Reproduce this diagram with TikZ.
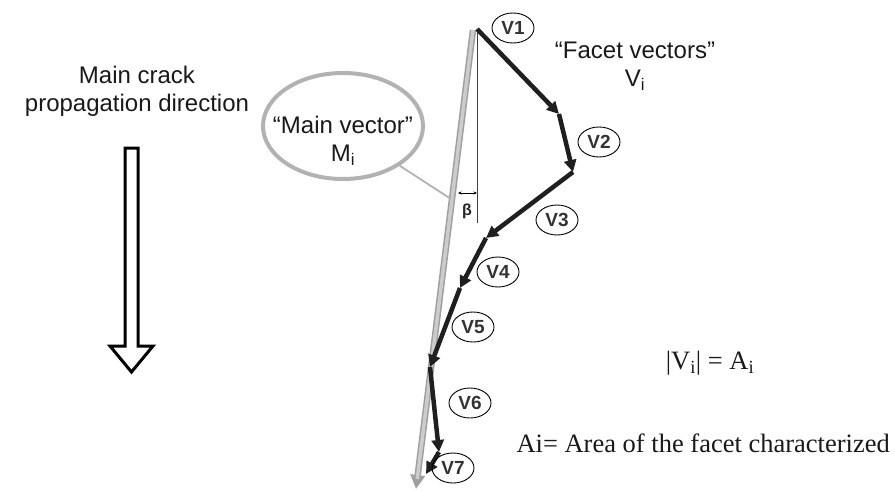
\documentclass[tikz,border=0pt]{standalone}
\usepackage{fontspec}
\setmainfont{Liberation Serif}
\setsansfont{Liberation Sans}
\usetikzlibrary{arrows.meta,shapes.geometric}
\begin{document}
\begin{tikzpicture}[x=1pt,y=-1pt,
  vlab/.style={draw=black, line width=0.9pt, ellipse, minimum width=42pt, minimum height=30pt, inner sep=0pt, font=\sffamily\bfseries\fontsize{19}{19}\selectfont, text=black!80},
  facet/.style={line width=4.5pt, draw=black!88, -{Triangle[length=12pt,width=12pt]}},
  sanslab/.style={font=\sffamily\fontsize{24}{28}\selectfont, align=center, text=black!90},
  serlab/.style={font=\fontsize{26.5}{30}\selectfont, text=black!90}
]
\useasboundingbox (0,0) rectangle (895,493);

% hollow arrow
\draw[line width=3pt, fill=white, line join=miter] (125,148) -- (138,148) -- (138,346) -- (153,346) -- (131.5,372) -- (110,346) -- (125,346) -- cycle;
\node[sanslab] (mc) at (137,91) {Main crack\\propagation direction};

% main vector ellipse
\node[ellipse, draw=gray!60, line width=4pt, minimum width=160pt, minimum height=106pt] (mv) at (343,126) {};
\node[sanslab] (mvt) at (343,141) {“Main vector”\\M\textsubscript{i}};

% main vector
\coordinate (m0) at (473,30);
\coordinate (m1) at (416,489);
\draw[line width=6.5pt, draw=gray!75, -{Triangle[length=14pt,width=14pt]}] (m0) -- (m1);
\draw[line width=3.5pt, draw=gray!40, shorten >=10pt] (m0) -- (m1);
\coordinate (cc) at (451,199);
\draw[gray!60, line width=1.8pt] (mv.-35) -- (cc);

% vertical reference and beta
\coordinate (p0) at (477,29);
\coordinate (vb) at (477,223);
\draw[line width=1pt, black!75] (p0) -- (vb);
\coordinate (b0) at (458,193);
\coordinate (b1) at (477,193);
\draw[{Stealth[length=3.5pt,width=3pt]}-{Stealth[length=3.5pt,width=3pt]}, line width=0.7pt] (b0) -- (b1);
\node[font=\sffamily\bfseries\fontsize{16}{16}\selectfont, text=black!85] (beta) at (467,211) {β};

% facet vectors
\coordinate (p1) at (559,114);
\coordinate (p2) at (573,172);
\coordinate (p3) at (486,238);
\coordinate (p4) at (460,288);
\coordinate (p5) at (430,367);
\coordinate (p6) at (439,452);
\coordinate (p7) at (426,474);
\draw[facet] (p0) -- (p1);
\draw[facet] (p1) -- (p2);
\draw[facet] (p2) -- (p3);
\draw[facet] (p3) -- (p4);
\draw[facet] (p4) -- (p5);
\draw[facet] (p5) -- (p6);
\draw[facet] (p6) -- (p7);

\node[vlab] (v1) at (513,28) {V1};
\node[vlab] (v2) at (599,142) {V2};
\node[vlab] (v3) at (557,220) {V3};
\node[vlab] (v4) at (498,272) {V4};
\node[vlab] (v5) at (473,327) {V5};
\node[vlab] (v6) at (470,403) {V6};
\node[vlab] (v7) at (453,468) {V7};

\node[sanslab] (fv) at (635,66) {“Facet vectors”\\V\textsubscript{i}};

\node[serlab] (eq) at (710,363) {|V\textsubscript{i}| = A\textsubscript{i}};
\node[serlab, anchor=west] (ai) at (513,443) {Ai= Area of the facet characterized};
\end{tikzpicture}
\end{document}
